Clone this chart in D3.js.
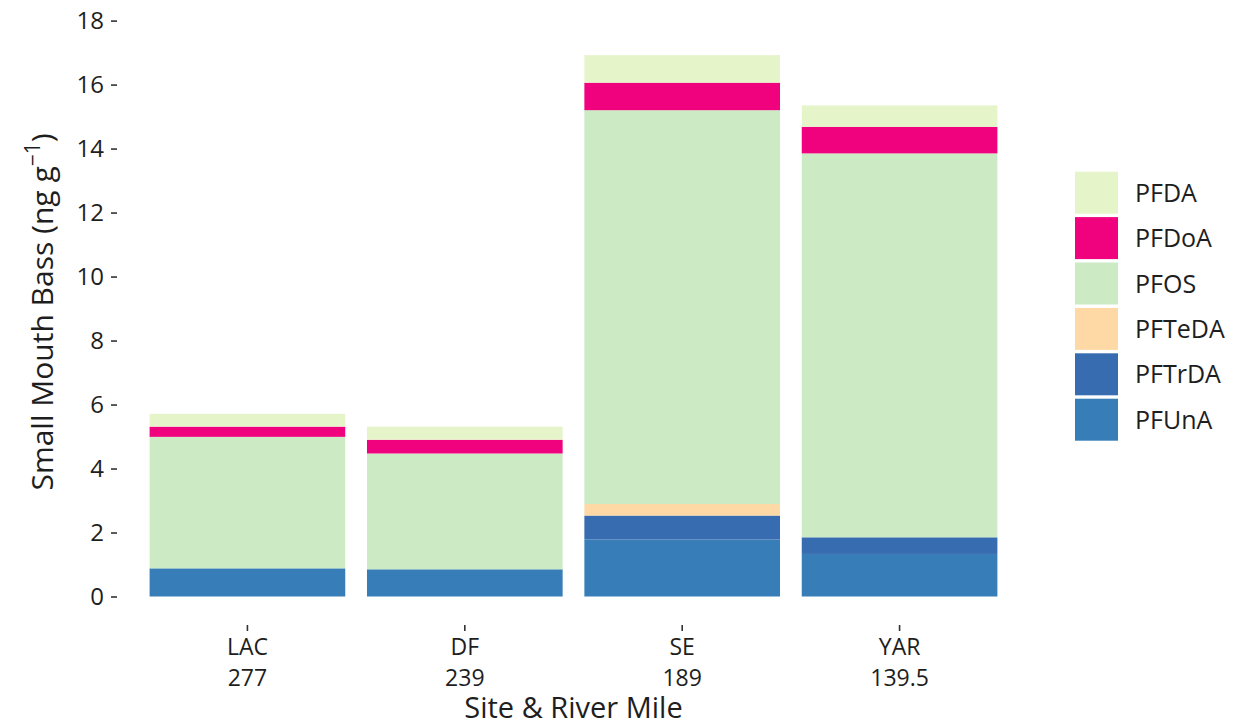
<!DOCTYPE html>
<html>
<head>
<meta charset="utf-8">
<script src="https://cdn.jsdelivr.net/npm/d3@7"></script>
<style>
  html, body { margin: 0; padding: 0; background: #ffffff; }
  svg { display: block; }
  svg text { font-family: "Open Sans", Lato, sans-serif; }
</style>
</head>
<body>
<svg id="chart" width="1243" height="727"></svg>
<script>
// Sites along the river and their river miles
const sites = ["LAC", "DF", "SE", "YAR"];
const riverMiles = ["277", "239", "189", "139.5"];

// Concentrations per compound (ng g-1), one value per site
const PFUnA  = [0.88, 0.85, 1.78, 1.33];
const PFTrDA = [0.00, 0.00, 0.75, 0.52];
const PFTeDA = [0.00, 0.00, 0.36, 0.00];
const PFOS   = [4.11, 3.62, 12.31, 12.00];
const PFDoA  = [0.32, 0.43, 0.86, 0.83];
const PFDA   = [0.40, 0.41, 0.86, 0.67];

// Stacking order, bottom to top
const stackKeys = ["PFUnA", "PFTrDA", "PFTeDA", "PFOS", "PFDoA", "PFDA"];
// Legend order, top to bottom
const legendKeys = ["PFDA", "PFDoA", "PFOS", "PFTeDA", "PFTrDA", "PFUnA"];
const colors = ["#e6f5c9", "#f0027f", "#ccebc5", "#fed9a6", "#386cb0", "#377eb8"];

const yTicks = [0, 2, 4, 6, 8, 10, 12, 14, 16, 18];

const series = { PFUnA, PFTrDA, PFTeDA, PFOS, PFDoA, PFDA };
const rows = sites.map((s, i) => {
  const r = { site: s, mile: riverMiles[i] };
  stackKeys.forEach(k => r[k] = series[k][i]);
  return r;
});

const svg = d3.select("#chart");
const textColor = "#1e1e1e";
const fontFamily = "'Open Sans', Lato, sans-serif";

const panel = { left: 117, right: 1030, bottom: 625 };

const x = d3.scaleBand()
  .domain(sites)
  .range([panel.left, panel.right])
  .paddingInner(0.1)
  .paddingOuter(0.15);

const y = d3.scaleLinear().domain([0, 18]).range([596.5, 20.6]);

const color = d3.scaleOrdinal().domain(legendKeys).range(colors);

const stacked = d3.stack().keys(stackKeys)(rows);

// Bars
svg.append("g")
  .selectAll("g")
  .data(stacked)
  .join("g")
  .attr("fill", d => color(d.key))
  .selectAll("rect")
  .data(d => d)
  .join("rect")
  .attr("x", d => x(d.data.site))
  .attr("width", x.bandwidth())
  .attr("y", d => y(d[1]))
  .attr("height", d => Math.max(0, y(d[0]) - y(d[1])));

// Y axis
const yAxis = svg.append("g")
  .attr("transform", `translate(${panel.left},0)`)
  .call(d3.axisLeft(y).tickValues(yTicks).tickSize(6).tickPadding(7));
yAxis.attr("font-family", fontFamily).attr("font-size", 24);
yAxis.select(".domain").remove();
yAxis.selectAll(".tick line").attr("stroke", "#333333").attr("stroke-width", 1.6);
yAxis.selectAll(".tick text").attr("fill", textColor);

// X axis: site name over river mile
const xAxis = svg.append("g")
  .attr("transform", `translate(0,${panel.bottom})`)
  .call(d3.axisBottom(x).tickSize(6).tickFormat(""));
xAxis.attr("font-family", fontFamily).attr("font-size", 23);
xAxis.select(".domain").remove();
xAxis.selectAll(".tick line").attr("stroke", "#333333").attr("stroke-width", 1.6);
xAxis.selectAll(".tick").each(function (d, i) {
  const g = d3.select(this);
  g.append("text")
    .attr("fill", textColor)
    .attr("text-anchor", "middle")
    .attr("y", 30)
    .text(sites[i]);
  g.append("text")
    .attr("fill", textColor)
    .attr("text-anchor", "middle")
    .attr("y", 61)
    .text(riverMiles[i]);
});

// Axis titles
svg.append("text")
  .attr("x", (panel.left + panel.right) / 2)
  .attr("y", 718)
  .attr("text-anchor", "middle")
  .attr("fill", textColor)
  .style("font-size", "29px")
  .text("Site & River Mile");

const yt = svg.append("text")
  .attr("transform", `translate(53,312) rotate(-90)`)
  .attr("text-anchor", "middle")
  .attr("fill", textColor)
  .style("font-size", "30px");
yt.append("tspan").text("Small Mouth Bass (ng g");
yt.append("tspan").attr("dy", -13).style("font-size", "21px").text("\u22121");
yt.append("tspan").attr("dy", 13).text(")");

// Legend
const legend = svg.append("g").attr("transform", "translate(1075,171.7)");
const item = legend.selectAll("g")
  .data(legendKeys)
  .join("g")
  .attr("transform", (d, i) => `translate(0,${i * 45.4})`);
item.append("rect")
  .attr("width", 43)
  .attr("height", 42)
  .attr("fill", d => color(d));
item.append("text")
  .attr("x", 60)
  .attr("y", 21)
  .attr("dy", "0.36em")
  .attr("fill", textColor)
  .style("font-size", "25px")
  .text(d => d);
</script>
</body>
</html>
